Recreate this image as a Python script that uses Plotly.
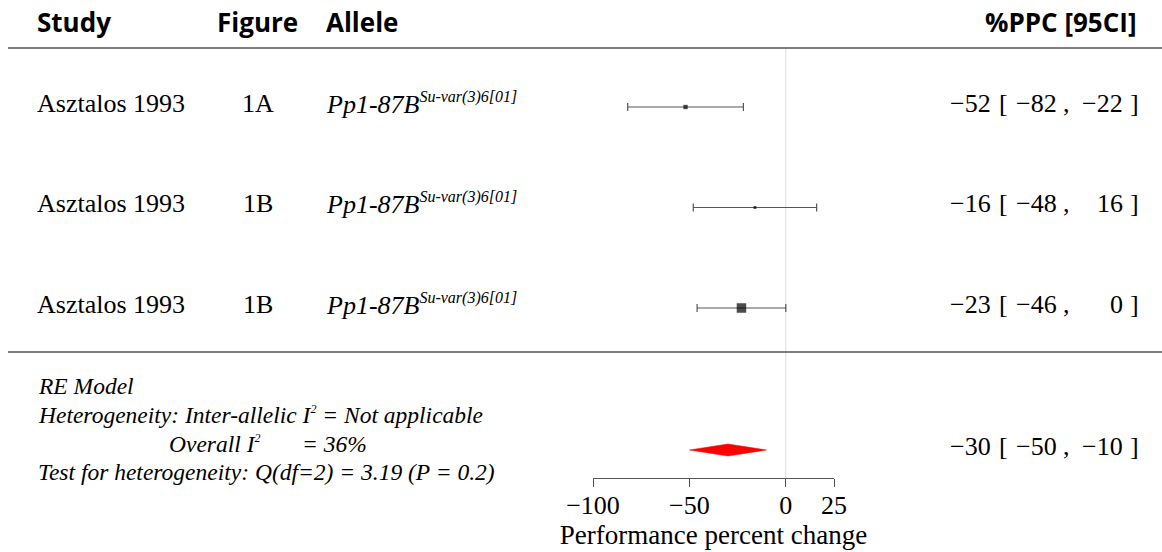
import plotly.graph_objects as go

# ---------------- data ----------------
studies = ["Asztalos 1993", "Asztalos 1993", "Asztalos 1993"]
figures = ["1A", "1B", "1B"]
alleles = ["Pp1-87B", "Pp1-87B", "Pp1-87B"]
allele_sup = ["Su-var(3)6[01]", "Su-var(3)6[01]", "Su-var(3)6[01]"]
estimates = [-52, -16, -23]
ci_low = [-82, -48, -46]
ci_high = [-22, 16, 0]
weights = [16, 7, 77]          # relative study weights (%)
summary_est, summary_low, summary_high = -30, -50, -10
tick_values = [-100, -50, 0, 25]
headers = ["Study", "Figure", "Allele", "%PPC [95CI]"]
footnotes = [
    "RE Model",
    "Heterogeneity: Inter-allelic I{sup} = Not applicable",
    "Test for heterogeneity: Q(df=2) = 3.19 (P = 0.2)",
]
overall_i2_label = "Overall I{sup}"
overall_i2_value = "= 36%"

# ---------------- layout constants ----------------
W, H = 1162, 552
ROW0, ROWSTEP = 107, 100.5
SUMMARY_Y = 450
AXIS_Y = 478
X_LO, X_HI = -100, 25
AX_LEFT, AX_RIGHT = 593, 834
SERIF = "Liberation Serif"
SANS = "Open Sans"
FS = 26


def fmt(v):
    return ("\u2212" if v < 0 else "") + str(abs(v))


def px(xpix):
    return xpix / W


row_y = [ROW0 + i * ROWSTEP for i in range(len(estimates))]

fig = go.Figure()

# confidence intervals
fig.add_trace(go.Scatter(
    x=estimates, y=row_y, mode="markers",
    marker=dict(size=1, color="rgba(0,0,0,0)"),
    error_x=dict(type="data", symmetric=False,
                 array=[h - e for h, e in zip(ci_high, estimates)],
                 arrayminus=[e - l for e, l in zip(estimates, ci_low)],
                 color="#555555", thickness=1.2, width=4),
    showlegend=False, hoverinfo="skip", cliponaxis=False,
))
# point estimates (square size ~ weight)
fig.add_trace(go.Scatter(
    x=estimates, y=row_y, mode="markers",
    marker=dict(symbol="square", color="black",
                size=[9.5 * (w / max(weights)) ** 0.5 for w in weights],
                line=dict(width=0)),
    showlegend=False, hoverinfo="skip", cliponaxis=False,
))

# summary diamond
dh = 6
fig.add_trace(go.Scatter(
    x=[summary_low, summary_est, summary_high, summary_est, summary_low],
    y=[SUMMARY_Y, SUMMARY_Y - dh, SUMMARY_Y, SUMMARY_Y + dh, SUMMARY_Y],
    mode="lines", fill="toself", fillcolor="red",
    line=dict(color="red", width=0.5),
    showlegend=False, hoverinfo="skip",
))

shapes = [
    dict(type="line", xref="x", yref="y", x0=0, x1=0, y0=48, y1=AXIS_Y,
         line=dict(color="#dddddd", width=1), layer="below"),
    dict(type="line", xref="paper", yref="y", x0=px(8), x1=1, y0=48, y1=48,
         line=dict(color="#555555", width=1.3)),
    dict(type="line", xref="paper", yref="y", x0=px(8), x1=1, y0=352, y1=352,
         line=dict(color="#555555", width=1.3)),
]

ann = []


def add_text(text, xpix, ypix, anchor, font):
    ann.append(dict(text=text, x=px(xpix), y=ypix, xref="paper", yref="y",
                    xanchor=anchor, yanchor="middle", showarrow=False,
                    borderpad=0, font=font))


hfont = dict(family=SANS, size=26, color="black")
add_text("<b>%s</b>" % headers[0], 36, 22, "left", hfont)
add_text("<b>%s</b>" % headers[1], 216, 22, "left", hfont)
add_text("<b>%s</b>" % headers[2], 325, 22, "left", hfont)
add_text("<b>%s</b>" % headers[3], 1138, 22, "right", hfont)

rfont = dict(family=SERIF, size=FS, color="black")
for i, y in enumerate(row_y):
    ty = y - 4
    add_text(studies[i], 36, ty, "left", rfont)
    add_text(figures[i], 258, ty, "center", rfont)
    add_text("<i>%s<sup><span style='font-size:16px'>%s</span></sup></i>"
             % (alleles[i], allele_sup[i]), 325, ty, "left", rfont)


def ci_text(e, l, h, ty):
    add_text(fmt(e), 992, ty, "right", rfont)
    add_text("[", 998, ty, "left", rfont)
    add_text(fmt(l), 1058, ty, "right", rfont)
    add_text(",", 1062, ty, "left", rfont)
    add_text(fmt(h), 1124, ty, "right", rfont)
    add_text("]", 1129, ty, "left", rfont)


for i, y in enumerate(row_y):
    ci_text(estimates[i], ci_low[i], ci_high[i], y - 4)
ci_text(summary_est, summary_low, summary_high, SUMMARY_Y - 4)

SUP2 = "<sup><span style='font-size:12px'>2</span></sup>"
ffont = dict(family=SERIF, size=23.5, color="black")
add_text("<i>%s</i>" % footnotes[0], 37, 386, "left", ffont)
add_text("<i>%s</i>" % footnotes[1].format(sup=SUP2), 37, 415, "left", ffont)
add_text("<i>%s</i>" % overall_i2_label.format(sup=SUP2), 168, 444, "left", ffont)
add_text("<i>%s</i>" % overall_i2_value, 301, 444, "left", ffont)
add_text("<i>%s</i>" % footnotes[2], 37, 472, "left", ffont)

fig.update_layout(
    width=W, height=H, margin=dict(l=0, r=0, t=0, b=0, pad=0, autoexpand=False),
    paper_bgcolor="white", plot_bgcolor="white",
    shapes=shapes, annotations=ann,
    xaxis=dict(domain=[px(AX_LEFT), px(AX_RIGHT)], range=[X_LO, X_HI],
               anchor="free", position=(H - AXIS_Y) / H, automargin=False,
               showgrid=False, zeroline=False, showline=True,
               linecolor="#555555", linewidth=1.2,
               ticks="outside", ticklen=8, tickcolor="#555555", tickwidth=1.2,
               ticklabelstandoff=-4,
               tickvals=tick_values, ticktext=[fmt(v) for v in tick_values],
               tickfont=dict(family=SERIF, size=FS, color="black"),
               title=dict(text="Performance percent change",
                          font=dict(family=SERIF, size=27, color="black"),
                          standoff=0)),
    yaxis=dict(domain=[0, 1], range=[H, 0], visible=False, showgrid=False,
               zeroline=False, automargin=False),
)

fig.write_html("out.html")
